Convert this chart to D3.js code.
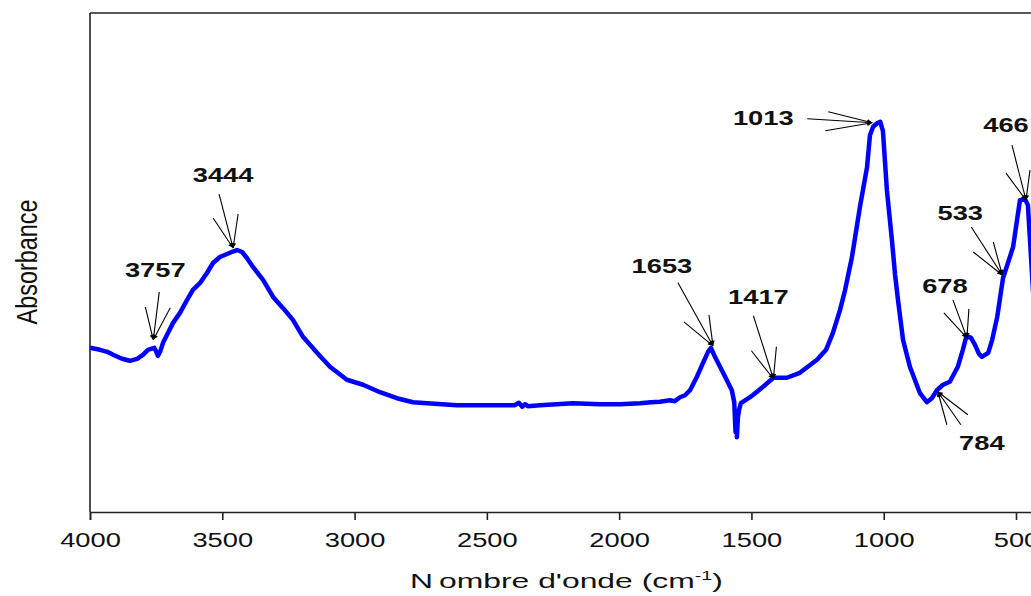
<!DOCTYPE html>
<html>
<head>
<meta charset="utf-8">
<script src="https://cdn.jsdelivr.net/npm/d3@7"></script>
<style>
  html, body { margin: 0; padding: 0; background: #fff; overflow: hidden; }
  svg { display: block; }
  text { font-family: "Liberation Sans", Arial, sans-serif; fill: #111; }
</style>
</head>
<body>
<svg id="chart" width="1031" height="596"></svg>
<script>
// FTIR spectrum: wavenumber (cm-1) and absorbance (arbitrary units)
const wavenumber = [
  4000, 3962, 3935, 3913, 3879, 3849, 3822, 3800, 3781, 3757, 3751, 3743, 3735, 3724,
  3705, 3686, 3660, 3633, 3611, 3584, 3558, 3535, 3509, 3482, 3460, 3444, 3425, 3407,
  3384, 3346, 3308, 3271, 3233, 3195, 3142, 3093, 3029, 2968, 2904, 2840, 2779, 2726,
  2613, 2488, 2394, 2379, 2367, 2356, 2345, 2299, 2174, 2072, 1997, 1921, 1880, 1846,
  1808, 1790, 1770, 1751, 1732, 1706, 1683, 1664, 1653, 1638, 1607, 1574, 1565, 1560,
  1557, 1555, 1551, 1547, 1540, 1505, 1456, 1417, 1366, 1317, 1252, 1218, 1192, 1165,
  1146, 1120, 1090, 1063, 1052, 1040, 1025, 1013, 1003, 988, 969, 957, 946, 927,
  901, 863, 837, 818, 799, 784, 776, 750, 720, 701, 689, 678, 670, 655,
  640, 629, 605, 590, 571, 549, 533, 511, 485, 466, 455, 447, 436, 410
];
const absorbance = [
  0.329, 0.325, 0.321, 0.315, 0.307, 0.303, 0.307, 0.315, 0.325, 0.329, 0.323, 0.313, 0.321, 0.339,
  0.359, 0.379, 0.399, 0.425, 0.445, 0.459, 0.479, 0.499, 0.511, 0.517, 0.522, 0.525, 0.521, 0.509,
  0.491, 0.465, 0.431, 0.409, 0.385, 0.351, 0.319, 0.291, 0.265, 0.255, 0.240, 0.228, 0.220, 0.218,
  0.214, 0.214, 0.214, 0.219, 0.211, 0.216, 0.212, 0.214, 0.218, 0.216, 0.216, 0.218, 0.220, 0.221,
  0.224, 0.222, 0.230, 0.234, 0.244, 0.271, 0.299, 0.321, 0.329, 0.311, 0.279, 0.244, 0.220, 0.160,
  0.200, 0.150, 0.190, 0.204, 0.218, 0.230, 0.251, 0.269, 0.269, 0.279, 0.305, 0.325, 0.359, 0.405,
  0.445, 0.511, 0.611, 0.691, 0.755, 0.772, 0.779, 0.782, 0.764, 0.645, 0.545, 0.475, 0.425, 0.345,
  0.291, 0.238, 0.220, 0.228, 0.244, 0.251, 0.255, 0.261, 0.291, 0.325, 0.349, 0.351, 0.349, 0.335,
  0.317, 0.311, 0.319, 0.345, 0.391, 0.469, 0.495, 0.531, 0.625, 0.627, 0.615, 0.545, 0.445, 0.345
];

// Assigned band positions (cm-1)
const peakWavenumbers = [3757, 3444, 1653, 1417, 1013, 784, 678, 533, 466];
const peakLabels = ["3757", "3444", "1653", "1417", "1013", "784", "678", "533", "466"];

// Axis ticks
const xTickValues = [4000, 3500, 3000, 2500, 2000, 1500, 1000, 500];
const xTickLabels = ["4000", "3500", "3000", "2500", "2000", "1500", "1000", "500"];
const xAxisTitle = "Nombre d'onde (cm";
const yAxisTitle = "Absorbance";

// Annotation geometry: tip offset from the band point, label anchor and the
// three pointer-line starts, all relative to the tip (pixels)
const annotationLayout = [
  { tip: [-1, -8],  label: [2, -63],   ends: [[-8, -33], [6, -48], [17, -32]] },
  { tip: [-4, -2],  label: [-10, -66], ends: [[-14, -54], [-20, -30], [5, -34]] },
  { tip: [2, -2],   label: [-51, -73], ends: [[-35, -63], [-29, -24], [-4, -31]] },
  { tip: [0, 1],    label: [-15, -75], ends: [[-20, -63], [-22, -28], [3, -32]] },
  { tip: [-8, 1],   label: [-109, 2],  ends: [[-65, -4], [-44, -11], [-47, 8]] },
  { tip: [-3, 5],   label: [44, 58],   ends: [[9, 33], [23, 33], [30, 23]] },
  { tip: [-2, 1],   label: [-22, -45], ends: [[-14, -38], [-23, -25], [2, -29]] },
  { tip: [-5, 10],  label: [-42, -55], ends: [[-31, -48], [-29, -23], [-9, -33]] },
  { tip: [1, 1],    label: [-20, -68], ends: [[-14, -55], [-20, -27], [4, -30]] }
];

(function drawChart() {
  const svg = d3.select("#chart");
  const plotLeft = 90, plotTop = 13, plotBottom = 512;
  const textStretch = 1.3;

  const x = d3.scaleLinear().domain([4000, 400]).range([plotLeft, plotLeft + 3600 * 0.264571]);
  const y = d3.scaleLinear().domain([0, 1]).range([plotBottom, plotTop]);

  const spectrum = wavenumber.map((w, i) => ({ w, a: absorbance[i] }));

  // frame: left and top lines
  svg.append("line").attr("x1", plotLeft).attr("x2", plotLeft).attr("y1", plotTop).attr("y2", plotBottom)
    .attr("stroke", "#222").attr("stroke-width", 1.6);
  svg.append("line").attr("x1", plotLeft).attr("x2", x(400)).attr("y1", plotTop).attr("y2", plotTop)
    .attr("stroke", "#222").attr("stroke-width", 1.6);

  // bottom axis
  const xAxis = d3.axisBottom(x)
    .tickValues(xTickValues)
    .tickSize(8)
    .tickFormat((d, i) => xTickLabels[i]);
  const gx = svg.append("g").attr("transform", `translate(0,${plotBottom})`).call(xAxis);
  gx.select(".domain").attr("stroke", "#222").attr("stroke-width", 1.6);
  gx.selectAll(".tick line").attr("stroke", "#222").attr("stroke-width", 1.6);
  gx.selectAll(".tick text")
    .attr("y", 0).attr("dy", null)
    .style("font-family", "'Liberation Sans', Arial, sans-serif")
    .style("font-size", "21px")
    .attr("fill", "#111")
    .attr("transform", `translate(0,35) scale(${textStretch},1)`);

  // axis titles
  const xt = svg.append("text")
    .style("font-size", "21px")
    .attr("x", 0).attr("y", 0);
  xt.append("tspan").text("N");
  xt.append("tspan").attr("dx", 4).text(xAxisTitle.slice(1));
  xt.append("tspan").attr("dy", -8).style("font-size", "13px").text("-1");
  xt.append("tspan").attr("dy", 8).text(")");
  const xtWidth = xt.node().getBBox().width;
  xt.attr("transform", `translate(410,588) scale(${313 / xtWidth},1)`);

  svg.append("text")
    .text(yAxisTitle)
    .attr("text-anchor", "middle")
    .style("font-size", "23.4px")
    .attr("transform", "translate(37,262) rotate(-90) scale(1,1.28)");

  // spectrum curve
  const line = d3.line().x(d => x(d.w)).y(d => y(d.a));
  svg.append("path")
    .datum(spectrum)
    .attr("d", line)
    .attr("fill", "none")
    .attr("stroke", "#0000ff")
    .attr("stroke-width", 4.5)
    .attr("stroke-linejoin", "round");

  // absorbance at a wavenumber by linear interpolation along the spectrum
  function absorbanceAt(w) {
    for (let i = 0; i < spectrum.length - 1; i++) {
      const a = spectrum[i], b = spectrum[i + 1];
      if (w <= a.w && w >= b.w) {
        const t = (a.w - w) / (a.w - b.w);
        return a.a + t * (b.a - a.a);
      }
    }
    return spectrum[spectrum.length - 1].a;
  }

  // arrowhead
  svg.append("defs").append("marker")
    .attr("id", "tipHead")
    .attr("viewBox", "0 0 10 10")
    .attr("refX", 10).attr("refY", 5)
    .attr("markerUnits", "userSpaceOnUse")
    .attr("markerWidth", 7).attr("markerHeight", 5)
    .attr("orient", "auto")
    .append("path").attr("d", "M0,0 L10,5 L0,10 Z").attr("fill", "#000");

  // band annotations
  const ann = svg.append("g");
  peakWavenumbers.forEach((w, i) => {
    const lay = annotationLayout[i];
    const tx = x(w) + lay.tip[0];
    const ty = y(absorbanceAt(w)) + lay.tip[1];
    lay.ends.forEach(e => {
      ann.append("line")
        .attr("x1", tx + e[0]).attr("y1", ty + e[1])
        .attr("x2", tx).attr("y2", ty)
        .attr("stroke", "#000").attr("stroke-width", 1.1)
        .attr("marker-end", "url(#tipHead)");
    });
    ann.append("text")
      .text(peakLabels[i])
      .attr("text-anchor", "middle")
      .style("font-size", "21px")
      .style("font-weight", "bold")
      .attr("transform", `translate(${tx + lay.label[0]},${ty + lay.label[1]}) scale(${textStretch},1)`);
  });
})();
</script>
</body>
</html>
